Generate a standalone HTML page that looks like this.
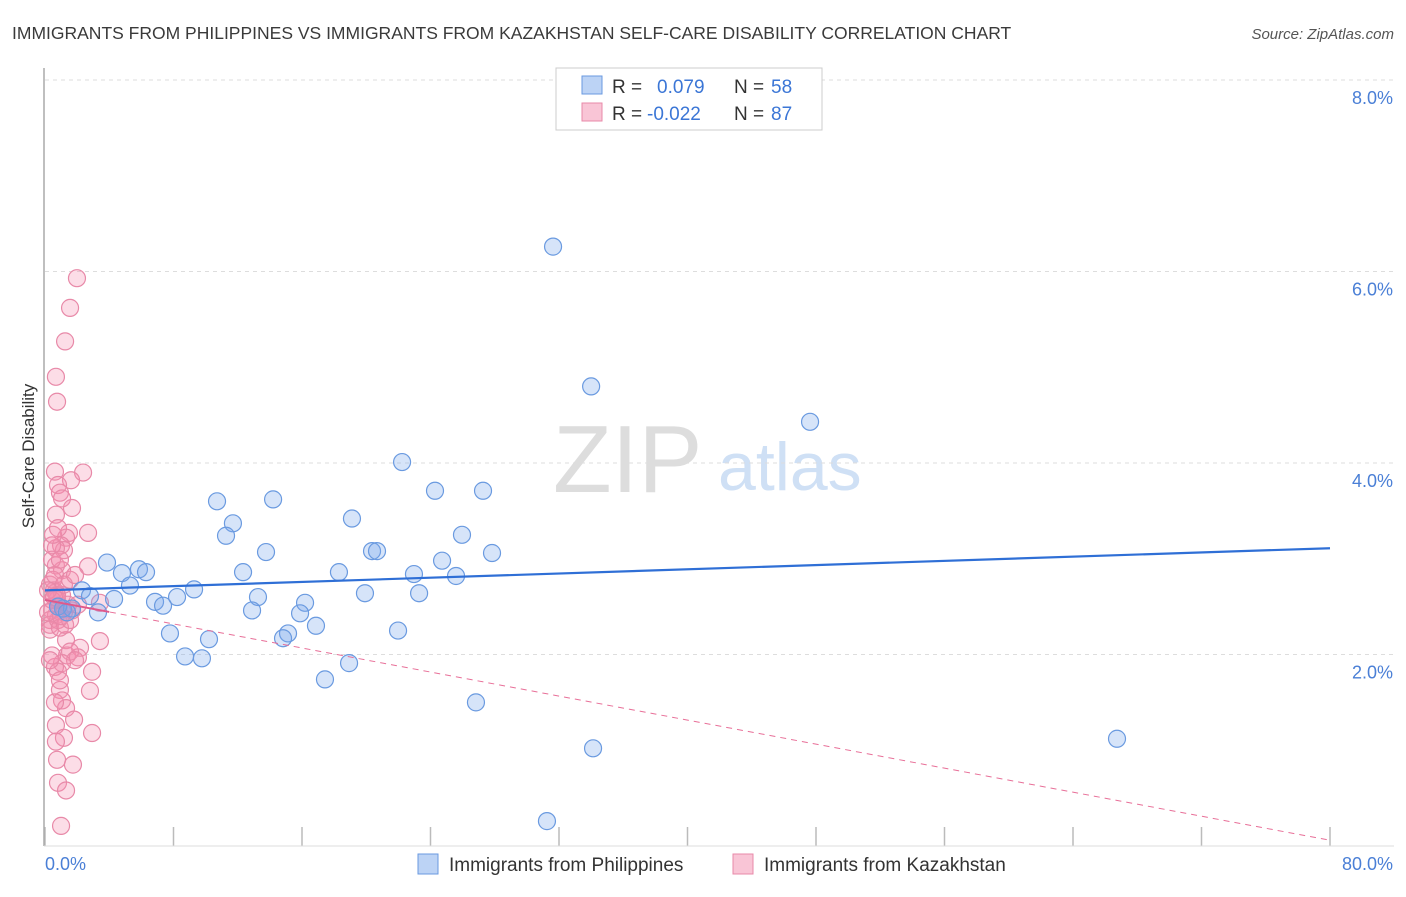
<!DOCTYPE html>
<html><head><meta charset="utf-8"><style>
body{margin:0;background:#fff;font-family:"Liberation Sans",sans-serif;}
svg text{font-family:"Liberation Sans",sans-serif;}
</style></head><body>
<svg id="chart" width="1406" height="892" xmlns="http://www.w3.org/2000/svg">
<text x="12" y="39" font-size="17.5" fill="#3a3a3a">IMMIGRANTS FROM PHILIPPINES VS IMMIGRANTS FROM KAZAKHSTAN SELF-CARE DISABILITY CORRELATION CHART</text>
<text x="1394" y="39" font-size="15" font-style="italic" fill="#555" text-anchor="end">Source: ZipAtlas.com</text>
<g>
<text x="553" y="492" font-size="96" font-family="Liberation Serif" fill="#ddd">ZIP</text>
<text x="718" y="490" font-size="68" fill="#cfe0f5">atlas</text>
</g>
<g id="grid"></g>
<line x1="44" y1="68" x2="44" y2="846" stroke="#aaa" stroke-width="1.5"/>
<line x1="44" y1="846" x2="1394" y2="846" stroke="#ddd" stroke-width="1"/>
<text transform="translate(34,456) rotate(-90)" font-size="17" fill="#333" text-anchor="middle">Self-Care Disability</text>
<text x="45" y="870" font-size="18" fill="#4a7fd6">0.0%</text>
<text x="1393" y="870" font-size="18" fill="#4a7fd6" text-anchor="end">80.0%</text>
<g id="pts"></g>
<g id="trends"></g>
<g>
<rect x="556" y="68" width="266" height="62" fill="#fff" stroke="#ccc"/>
<rect x="582" y="76" width="20" height="18" fill="#bcd3f5" stroke="#6a9ae0"/>
<rect x="582" y="103" width="20" height="18" fill="#f9c5d6" stroke="#e889a8"/>
<text x="612" y="93" font-size="19" fill="#333">R = </text><text x="657" y="93" font-size="19" fill="#3b76d6">0.079</text>
<text x="734" y="93" font-size="19" fill="#333">N = </text><text x="771" y="93" font-size="19" fill="#3b76d6">58</text>
<text x="612" y="120" font-size="19" fill="#333">R = </text><text x="647" y="120" font-size="19" fill="#3b76d6">-0.022</text>
<text x="734" y="120" font-size="19" fill="#333">N = </text><text x="771" y="120" font-size="19" fill="#3b76d6">87</text>
</g>
<g>
<rect x="418" y="854" width="20" height="20" fill="#bcd3f5" stroke="#6a9ae0"/>
<text x="449" y="871" font-size="19" fill="#333">Immigrants from Philippines</text>
<rect x="733" y="854" width="20" height="20" fill="#f9c5d6" stroke="#e889a8"/>
<text x="764" y="871" font-size="19" fill="#333">Immigrants from Kazakhstan</text>
</g>
</svg>
<script>
const yTicks=[2,4,6,8];
const yTickLabels=["2.0%","4.0%","6.0%","8.0%"];
const xTicks=[0,8,16,24,32,40,48,56,64,72,80];
const blueX=[31.63,34.0,47.63,22.23,24.28,27.27,10.71,14.2,11.7,19.11,11.27,25.96,13.76,20.36,20.67,27.83,24.72,3.86,5.85,6.29,4.79,12.33,18.3,22.97,25.59,2.30,5.29,9.28,2.80,4.30,8.22,6.85,7.35,13.26,19.92,23.29,16.19,1.12,1.68,3.30,12.89,15.88,7.78,10.21,15.13,14.82,16.87,21.98,8.72,9.77,18.93,17.43,26.83,34.12,66.74,31.25,0.81,1.37];
const blueY=[6.26,4.80,4.43,4.01,3.71,3.71,3.60,3.62,3.37,3.42,3.24,3.25,3.07,3.08,3.08,3.06,2.98,2.96,2.89,2.86,2.85,2.86,2.86,2.84,2.82,2.67,2.72,2.68,2.61,2.58,2.60,2.55,2.51,2.60,2.64,2.64,2.54,2.48,2.48,2.44,2.46,2.43,2.22,2.16,2.22,2.17,2.30,2.25,1.98,1.96,1.91,1.74,1.50,1.02,1.12,0.26,2.50,2.44];
const pinkX=[1.99,1.56,1.25,0.68,0.75,0.62,2.37,1.62,0.81,0.93,1.06,1.68,0.68,1.49,2.68,1.31,1.0,1.18,0.68,0.44,0.68,1.06,2.68,0.44,0.31,0.56,0.68,0.75,0.87,0.44,0.68,0.31,0.31,0.31,3.42,1.68,1.43,2.05,1.06,1.18,3.42,1.31,2.18,1.37,2.05,1.56,1.87,1.06,0.62,2.93,0.81,2.80,2.93,0.93,1.06,1.31,1.81,0.62,0.68,1.18,0.68,0.75,1.74,0.81,1.31,1.0,0.44,0.5,0.62,0.81,0.93,0.44,0.31,0.93,0.75,1.18,1.56,0.5,0.81,1.87,0.93,0.19,0.19,1.25,1.56,0.56,1.0];
const pinkY=[5.93,5.62,5.27,4.90,4.64,3.91,3.90,3.82,3.77,3.69,3.63,3.53,3.46,3.27,3.27,3.22,3.14,3.09,3.11,3.14,2.93,2.88,2.92,2.99,2.73,2.67,2.65,2.57,2.51,2.46,2.41,2.36,2.31,2.26,2.54,2.46,2.52,2.52,2.62,2.44,2.14,2.15,2.07,1.99,1.97,2.03,1.94,1.91,1.87,1.82,1.82,1.62,1.18,1.63,1.52,1.44,1.32,1.50,1.26,1.13,1.09,0.90,0.85,0.66,0.58,0.21,2.57,2.78,2.83,2.36,2.28,1.99,1.94,1.73,2.62,2.73,2.78,3.25,3.32,2.83,2.99,2.67,2.44,2.31,2.36,2.60,2.40];
const blueTrend=[2.67,3.11];
const pinkTrend=[2.57,0.06];
const X=v=>45+v*(1285/80);
const Y=v=>846-v*95.75;
const NS="http://www.w3.org/2000/svg";
function mk(t,a,p){const e=document.createElementNS(NS,t);for(const k in a)e.setAttribute(k,a[k]);p.appendChild(e);return e;}
const grid=document.getElementById('grid');
yTicks.forEach((v,i)=>{
 const l=mk('line',{x1:45,x2:1394,y1:Y(v),y2:Y(v),stroke:'#ddd','stroke-dasharray':'4,4'},grid);
 
 
 const t=mk('text',{x:1393,y:Y(v)+24,'font-size':18,fill:'#4a7fd6','text-anchor':'end'},grid);
 t.textContent=yTickLabels[i];
 
 
});
xTicks.forEach(v=>{
 const l=mk('line',{x1:X(v),x2:X(v),y1:827,y2:846,stroke:'#bbb','stroke-width':1.5},grid);
 
 
});
const pts=document.getElementById('pts');
pinkX.forEach((x,i)=>{
 const c=mk('circle',{cx:X(x),cy:Y(pinkY[i]),r:8.5,fill:'rgba(244,143,177,0.3)',stroke:'#e889a8','stroke-width':1.2},pts);
 
 
});
blueX.forEach((x,i)=>{
 const c=mk('circle',{cx:X(x),cy:Y(blueY[i]),r:8.5,fill:'rgba(120,165,235,0.3)',stroke:'#6a9ae0','stroke-width':1.2},pts);
 
 
});
const tr=document.getElementById('trends');
const pl=mk('line',{x1:X(0),y1:Y(pinkTrend[0]),x2:X(80),y2:Y(pinkTrend[1]),stroke:'#e86f98','stroke-width':1,'stroke-dasharray':'6,5'},tr);


const ps=mk('line',{x1:X(0),y1:Y(pinkTrend[0]),x2:X(4),y2:Y(pinkTrend[0]+(pinkTrend[1]-pinkTrend[0])*4/80),stroke:'#e0588a','stroke-width':2},tr);


const bl=mk('line',{x1:X(0),y1:Y(blueTrend[0]),x2:X(80),y2:Y(blueTrend[1]),stroke:'#2f6fd6','stroke-width':2.2},tr);


</script>
</body></html>
